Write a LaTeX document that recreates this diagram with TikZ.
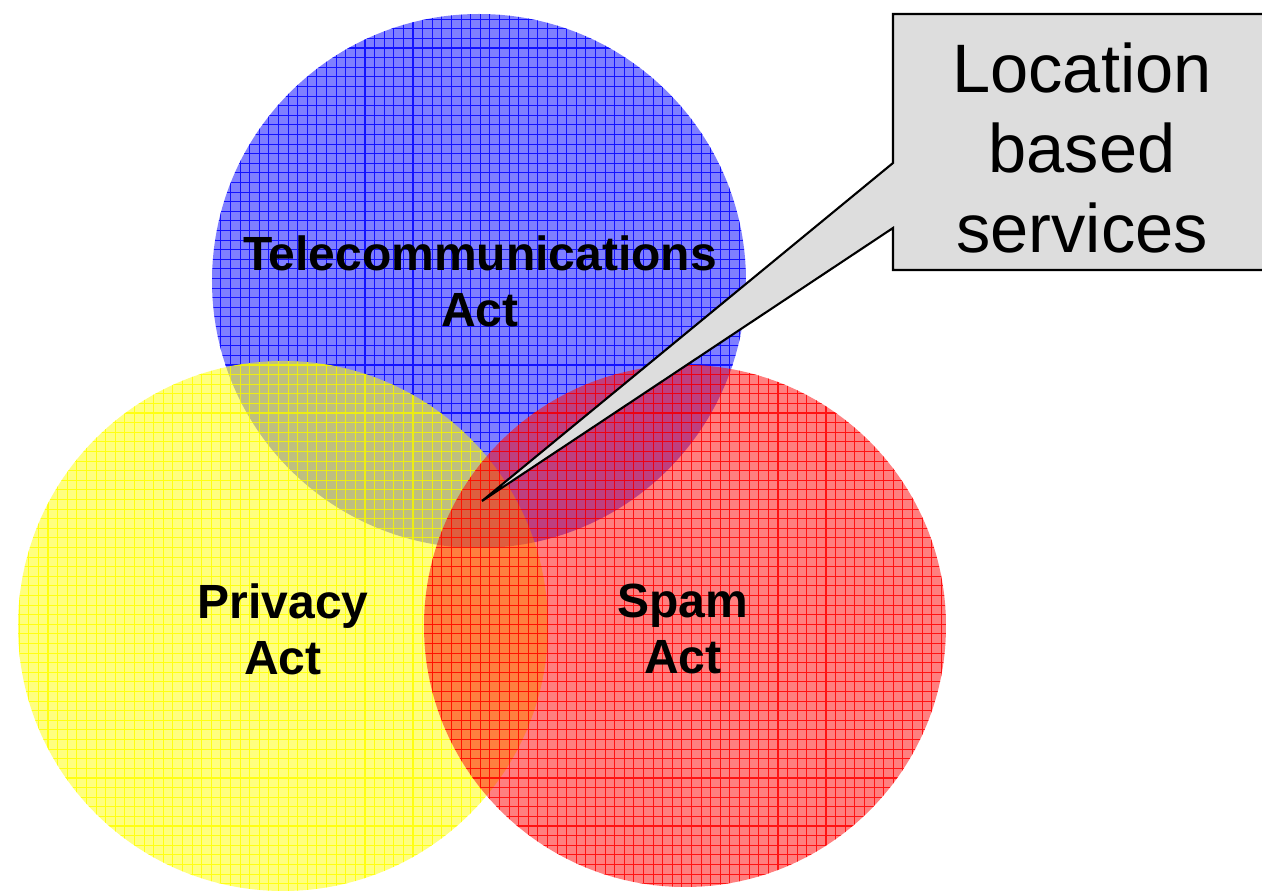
\documentclass[tikz,border=0pt]{standalone}
\usepackage{fontspec}
\setmainfont{Liberation Sans}
\definecolor{cblue}{RGB}{0,0,255}
\definecolor{cyellow}{RGB}{255,255,0}
\definecolor{cred}{RGB}{255,0,0}
\definecolor{calloutgray}{RGB}{221,221,221}
\tikzset{
  venn/.style={fill=#1, fill opacity=0.5, draw=none},
  venngrid/.style={draw=#1, draw opacity=0.85, line width=0.3pt},
  lbl/.style={font=\bfseries\fontsize{13.65}{15.9}\selectfont, align=center, inner sep=0pt},
  callouttext/.style={font=\fontsize{19.5}{22.8}\selectfont, align=center, inner sep=0pt},
  calloutbox/.style={fill=calloutgray, draw=black, line width=0.6pt, line join=miter}
}
\begin{document}
\begin{tikzpicture}[x=0.01cm,y=-0.01cm]
\useasboundingbox (0,0) rectangle (1262,891);
\clip (0,0) rectangle (1262,891);
% circle centres
\coordinate (tc) at (479,281);
\coordinate (pc) at (283,626);
\coordinate (sc) at (685,626);
% Telecommunications (blue)
\fill[venn=cblue] (tc) circle (267);
\begin{scope}
  \clip (tc) circle (267);
  \draw[venngrid=cblue, step=0.096cm] (200,0) grid (760,560);
\end{scope}
% Privacy (yellow)
\fill[venn=cyellow] (pc) circle (265);
\begin{scope}
  \clip (pc) circle (265);
  \draw[venngrid=cyellow, step=0.096cm] (0,350) grid (560,900);
\end{scope}
% Spam (red)
\fill[venn=cred] (sc) circle (261);
\begin{scope}
  \clip (sc) circle (261);
  \draw[venngrid=cred, step=0.096cm] (410,355) grid (960,900);
\end{scope}
% labels
\node[lbl] (tel) at (480,281) {Telecommunications\\Act};
\node[lbl] (priv) at (283,629) {Privacy\\Act};
\node[lbl] (spam) at (683,629) {Spam\\Act};
% callout
\coordinate (tip) at (482,501);
\coordinate (bnw) at (893,14);
\coordinate (bne) at (1272,14);
\coordinate (bse) at (1272,270);
\coordinate (bsw) at (893,270);
\coordinate (nlo) at (893,228);
\coordinate (nhi) at (893,163);
\draw[calloutbox] (bnw) -- (bne) -- (bse) -- (bsw) -- (nlo) -- (tip) -- (nhi) -- cycle;
\node[callouttext] (lbs) at (1082,148) {Location\\based\\services};
\end{tikzpicture}
\end{document}
